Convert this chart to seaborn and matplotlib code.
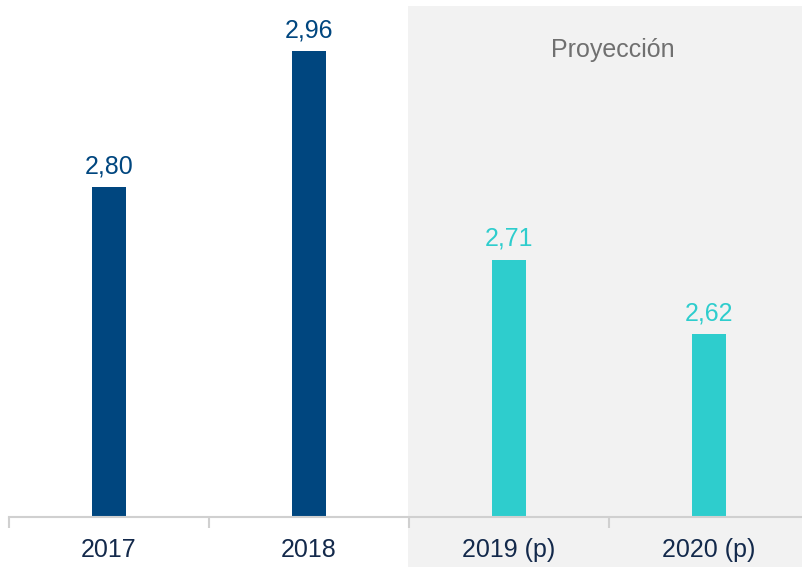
import matplotlib
matplotlib.use("Agg")
import matplotlib.pyplot as plt
from matplotlib.patches import Rectangle
import seaborn as sns
import pandas as pd

# data (bar heights estimated, labels as printed)
years = ["2017", "2018", "2019 (p)", "2020 (p)"]
values = [2.796, 2.96, 2.709, 2.62]
labels = ["2,80", "2,96", "2,71", "2,62"]
kind = ["real", "real", "proj", "proj"]

navy = "#00467f"
teal = "#2ecdcd"
palette = {"real": navy, "proj": teal}

sns.set_style("white")
plt.rcParams["font.family"] = ["Liberation Sans", "DejaVu Sans"]

df = pd.DataFrame({"year": years, "value": values, "kind": kind})

fig = plt.figure(figsize=(8.03, 5.67), dpi=100)

# grey "projection" background behind the last two categories
fig.patches.append(Rectangle((408 / 803, 0), 1, (567 - 6) / 567,
                             transform=fig.transFigure, facecolor="#f2f2f2",
                             edgecolor="none", zorder=0))

ax = fig.add_axes([9 / 803, 50 / 567, 800 / 803, 511 / 567])
ax.set_zorder(2)
ax.patch.set_alpha(0)

sns.barplot(data=df, x="year", y="value", hue="kind", palette=palette,
            width=0.17, dodge=False, legend=False, saturation=1,
            linewidth=0, ax=ax)

ax.set_xlim(-0.5, 3.5)
ax.set_ylim(2.40, 3.014)

for i, (v, lab, k) in enumerate(zip(values, labels, kind)):
    ax.annotate(lab, (i, v), xytext=(0, 10), textcoords="offset points",
                ha="center", va="baseline", fontsize=18, color=palette[k])

ax.text(2.52, 0.90, "Proyección", transform=ax.get_xaxis_transform(),
        ha="center", va="baseline", fontsize=18, color="#707070")

for s in ["top", "right", "left"]:
    ax.spines[s].set_visible(False)
ax.spines["bottom"].set_color("#d0d0d0")
ax.spines["bottom"].set_linewidth(1.5)

ax.set_yticks([])
ax.set_xticks([-0.5, 0.5, 1.5, 2.5, 3.5], minor=False)
ax.set_xticklabels([])
ax.tick_params(axis="x", which="major", length=8, width=1.5, color="#d0d0d0",
               direction="out", bottom=True)
ax.set_xticks(range(len(years)), minor=True)
ax.set_xticklabels(years, minor=True)
ax.tick_params(axis="x", which="minor", length=0, pad=15, labelsize=18,
               labelcolor="#13294b")
ax.set_xlabel("")
ax.set_ylabel("")

fig.savefig("out.png", dpi=100)
